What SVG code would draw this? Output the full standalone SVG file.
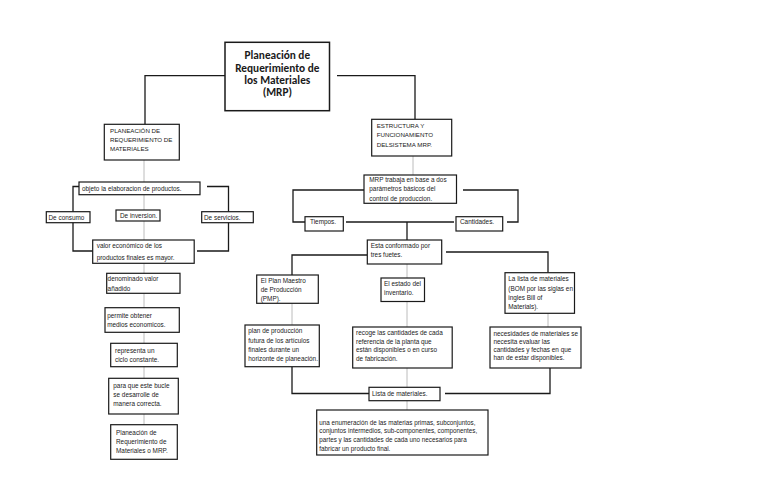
<svg xmlns="http://www.w3.org/2000/svg" width="768" height="497" viewBox="0 0 768 497">
<style>
.bg{fill:#ffffff}
.box{fill:#ffffff;stroke:#1a1a1a;stroke-width:1.2}
.main{fill:#ffffff;stroke:#1a1a1a;stroke-width:1.5}
.ln{fill:none;stroke:#1a1a1a;stroke-width:1.3}
.gl{fill:none;stroke:#b4b4b4;stroke-width:0.9}
.t{font-family:"Liberation Sans",Arial,sans-serif;font-size:6.4px;fill:#1a1a1a}
.c{font-family:"Liberation Sans",Arial,sans-serif;font-size:6.2px;fill:#1a1a1a}
.e{font-family:"Liberation Sans",Arial,sans-serif;font-size:6.3px;fill:#1a1a1a}
.h{font-family:Carlito,Lato,"Liberation Sans",sans-serif;font-size:11.3px;font-weight:bold;fill:#1a1a1a;text-anchor:middle}
</style>
<rect class="bg" x="0" y="0" width="768" height="497"/>
<g id="connectors">
<path class="gl" d="M144,160 V425"/>
<path class="gl" d="M413,156 V175"/>
<path class="gl" d="M407,264 V410"/>
<path class="gl" d="M292,303 V325"/>
<path class="gl" d="M548,313 V327"/>
<path class="ln" d="M225,75.7 H145 V124.3"/>
<path class="ln" d="M337,75.7 H415 V119.3"/>
<path class="ln" d="M79,186.5 H73 V251 H93"/>
<path class="ln" d="M207,186.5 H228.5 V251 H197"/>
<path class="ln" d="M364,190 H293 V222 H305"/>
<path class="ln" d="M463,190 H518 V222 H507"/>
<path class="ln" d="M346,222 H454"/>
<path class="ln" d="M407,222 V240"/>
<path class="ln" d="M367,255 H292 V275"/>
<path class="ln" d="M446,252 H548 V272.7"/>
<path class="ln" d="M292,366.7 V393.5 H369"/>
<path class="ln" d="M445,393.5 H550 V368"/>
</g>
<g id="n-mrp">
<rect class="main" x="225" y="42.3" width="104.5" height="68.4"/>
<text class="h"><tspan x="277.3" y="59.3">Planeación de</tspan><tspan x="277.3" y="71.6">Requerimiento de</tspan><tspan x="277.3" y="83.9">los Materiales</tspan><tspan x="277.3" y="96.2">(MRP)</tspan></text>
</g>
<g id="n-planeacion">
<rect class="box" x="104.3" y="124.3" width="75" height="35.7"/>
<text class="c"><tspan x="110" y="133">PLANEACIÓN DE</tspan><tspan x="110" y="141.6">REQUERIMIENTO DE</tspan><tspan x="110" y="151">MATERIALES</tspan></text>
</g>
<g id="n-objeto">
<rect class="box" x="79" y="182" width="121" height="12.7"/>
<text class="t" x="82" y="190.6">objeto la elaboracion de productos.</text>
</g>
<g id="n-consumo">
<rect class="box" x="46.3" y="211.7" width="43.7" height="11"/>
<text class="t" x="48.5" y="219.5">De consumo</text>
</g>
<g id="n-inversion">
<rect class="box" x="116" y="210" width="44" height="11"/>
<text class="t" x="120" y="217.8">De inversion.</text>
</g>
<g id="n-servicios">
<rect class="box" x="201.7" y="211.7" width="51.6" height="11"/>
<text class="t" x="204" y="219.5">De servicios.</text>
</g>
<g id="n-valor">
<rect class="box" x="92.7" y="240" width="101.5" height="23.3"/>
<text class="t"><tspan x="96.7" y="248.3">valor económico de los</tspan><tspan x="96.7" y="259.5">productos finales es mayor.</tspan></text>
</g>
<g id="n-denominado">
<rect class="box" x="106.7" y="273.3" width="73.3" height="20"/>
<text class="t"><tspan x="107.6" y="281.3">denominado valor</tspan><tspan x="107.6" y="290.5">añadido</tspan></text>
</g>
<g id="n-permite">
<rect class="box" x="105" y="307.7" width="74.3" height="24.6"/>
<text class="t"><tspan x="107.2" y="318">permite obtener</tspan><tspan x="107.2" y="326.5">medios economicos.</tspan></text>
</g>
<g id="n-representa">
<rect class="box" x="110.7" y="343.3" width="66.6" height="23.4"/>
<text class="t"><tspan x="115" y="353">representa un</tspan><tspan x="115" y="361.6">ciclo constante.</tspan></text>
</g>
<g id="n-bucle">
<rect class="box" x="108.7" y="378.3" width="69.6" height="35.7"/>
<text class="t"><tspan x="113.3" y="388">para que este bucle</tspan><tspan x="113.3" y="396.6">se desarrolle de</tspan><tspan x="113.3" y="405.5">manera correcta.</tspan></text>
</g>
<g id="n-planeacion-mrp">
<rect class="box" x="110.7" y="424.7" width="66.6" height="34.6"/>
<text class="t"><tspan x="116" y="435">Planeación de</tspan><tspan x="116" y="444">Requerimiento de</tspan><tspan x="116" y="453">Materiales o MRP.</tspan></text>
</g>
<g id="n-estructura">
<rect class="box" x="371.7" y="119.3" width="80" height="36.7"/>
<text class="c"><tspan x="376.7" y="127.6">ESTRUCTURA Y</tspan><tspan x="376.7" y="137.3">FUNCIONAMIENTO</tspan><tspan x="376.7" y="147">DELSISTEMA MRP.</tspan></text>
</g>
<g id="n-trabaja">
<rect class="box" x="364" y="175" width="92.5" height="28.3"/>
<text class="t"><tspan x="369.3" y="182.3">MRP trabaja en base a dos</tspan><tspan x="369.3" y="191.3">parámetros básicos del</tspan><tspan x="369.3" y="200.5">control de produccion.</tspan></text>
</g>
<g id="n-tiempos">
<rect class="box" x="305" y="216.7" width="38.3" height="14.3"/>
<text class="t" x="310" y="224">Tiempos.</text>
</g>
<g id="n-cantidades">
<rect class="box" x="456" y="216.7" width="46.7" height="14.3"/>
<text class="t" x="460" y="224">Cantidades.</text>
</g>
<g id="n-conformado">
<rect class="box" x="367.3" y="240" width="74.4" height="24"/>
<text class="t"><tspan x="370.7" y="248.3">Esta conformado por</tspan><tspan x="370.7" y="257.3">tres fuetes.</tspan></text>
</g>
<g id="n-pmp">
<rect class="box" x="256.7" y="275" width="61.6" height="28.3"/>
<text class="t"><tspan x="260.7" y="283">El Plan Maestro</tspan><tspan x="260.7" y="291.6">de Producción</tspan><tspan x="260.7" y="301">(PMP).</tspan></text>
</g>
<g id="n-plan">
<rect class="box" x="245" y="325" width="74.3" height="41.7"/>
<text class="t"><tspan x="248.3" y="333">plan de producción</tspan><tspan x="248.3" y="343">futura de los artículos</tspan><tspan x="248.3" y="352.2">finales durante un</tspan><tspan x="248.3" y="361.2">horizonte de planeación.</tspan></text>
</g>
<g id="n-inventario">
<rect class="box" x="381" y="278" width="43.5" height="23.5"/>
<text class="t"><tspan x="384" y="286.3">El estado del</tspan><tspan x="384" y="295.3">inventario.</tspan></text>
</g>
<g id="n-recoge">
<rect class="box" x="352.7" y="327" width="99.5" height="41"/>
<text class="t"><tspan x="356" y="335">recoge las cantidades de cada</tspan><tspan x="356" y="343.5">referencia de la planta que</tspan><tspan x="356" y="352">están disponibles o en curso</tspan><tspan x="356" y="360.5">de fabricación.</tspan></text>
</g>
<g id="n-bom">
<rect class="box" x="505" y="272.7" width="69.5" height="40.6"/>
<text class="t"><tspan x="508.3" y="280.6">La lista de materiales</tspan><tspan x="508.3" y="290.5">(BOM por las siglas en</tspan><tspan x="508.3" y="300">ingles Bill of</tspan><tspan x="508.3" y="309">Materials).</tspan></text>
</g>
<g id="n-necesidades">
<rect class="box" x="490" y="327" width="91" height="41"/>
<text class="t"><tspan x="493.5" y="336">necesidades de materiales se</tspan><tspan x="493.5" y="344">necesita evaluar las</tspan><tspan x="493.5" y="352">cantidades y fechas en que</tspan><tspan x="493.5" y="360">han de estar disponibles.</tspan></text>
</g>
<g id="n-lista">
<rect class="box" x="369" y="387.3" width="71" height="13.4"/>
<text class="t" x="372" y="396.2">Lista de materiales.</text>
</g>
<g id="n-enumeracion">
<rect class="box" x="316.7" y="410" width="171.3" height="45"/>
<text class="e"><tspan x="319.3" y="424.5">una enumeración de las materias primas, subconjuntos,</tspan><tspan x="319.3" y="433">conjuntos intermedios, sub-componentes, componentes,</tspan><tspan x="319.3" y="441.5">partes y las cantidades de cada uno necesarios para</tspan><tspan x="319.3" y="450.5">fabricar un producto final.</tspan></text>
</g>
</svg>
